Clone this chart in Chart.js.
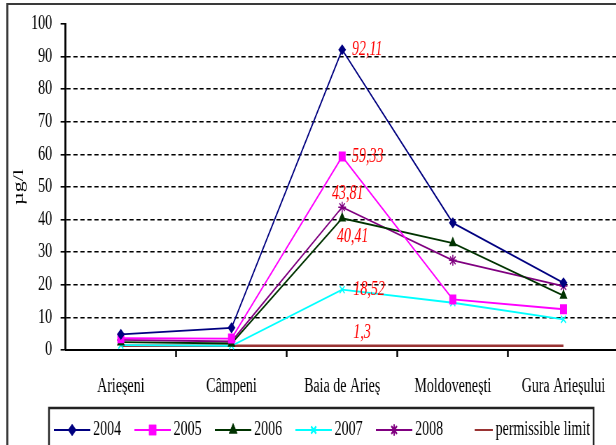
<!DOCTYPE html>
<html>
<head>
<meta charset="utf-8">
<script src="https://cdn.jsdelivr.net/npm/chart.js@4/dist/chart.umd.min.js"></script>
<style>
  html, body { margin: 0; padding: 0; background: #fff; }
  #wrap { width: 616px; height: 445px; overflow: hidden; position: relative; background: #fff; }
  #c { display: block; }
</style>
</head>
<body>
<div id="wrap"><canvas id="c" width="900" height="460" style="width:630px;height:460px"></canvas></div>
<script>
// Sampling sites along the Arieş river
const categories = ['Arieşeni', 'Câmpeni', 'Baia de Arieş', 'Moldoveneşti', 'Gura Arieşului'];

// Concentrations (µg/l) per year
const values2004 = [4.8, 6.8, 92.11, 39.0, 20.6];
const values2005 = [3.6, 3.5, 59.33, 15.5, 12.5];
const values2006 = [2.4, 2.0, 40.41, 32.8, 16.7];
const values2007 = [1.5, 1.3, 18.52, 14.5, 9.4];
const values2008 = [3.1, 2.6, 43.81, 27.5, 19.6];
const permissibleLimit = [1.3, 1.3, 1.3, 1.3, 1.3];

const yTicks = [0, 10, 20, 30, 40, 50, 60, 70, 80, 90, 100];

const FONT = "'Liberation Serif', 'Times New Roman', serif";

const seriesDefs = [
  { label: '2004', data: values2004, color: '#000080', style: 'rectRot', radius: 4.5 },
  { label: '2005', data: values2005, color: '#FF00FF', style: 'rect', radius: 6 },
  { label: '2006', data: values2006, color: '#003300', style: 'triangle', radius: 5 },
  { label: '2007', data: values2007, color: '#00FFFF', style: 'crossRot', radius: 5 },
  { label: '2008', data: values2008, color: '#800080', style: 'star', radius: 5.5 },
  { label: 'permissible limit', data: permissibleLimit, color: '#993333', style: false, radius: 0 }
];

// Values written next to the Baia de Arieş points
const valueLabels = [
  { series: 0, index: 2, align: 'left',   dx: 14, dy: 0 },
  { series: 1, index: 2, align: 'left',   dx: 14, dy: 0 },
  { series: 4, index: 2, align: 'center', dx: 8,  dy: -13 },
  { series: 2, index: 2, align: 'center', dx: 15, dy: 18 },
  { series: 3, index: 2, align: 'left',   dx: 16, dy: 0 },
  { series: 5, index: 2, align: 'left',   dx: 16, dy: -13 }
];

// Legend sample: a short line with the series marker in the middle
function legendSample(def, isLimit) {
  const cv = document.createElement('canvas');
  cv.width = 52; cv.height = 16;
  const g = cv.getContext('2d');
  g.strokeStyle = def.color;
  g.lineWidth = 2;
  g.beginPath();
  if (isLimit) { g.moveTo(26, 8); g.lineTo(52, 8); }
  else { g.moveTo(0, 8); g.lineTo(52, 8); }
  g.stroke();
  if (def.style) {
    Chart.helpers.drawPoint(g, {
      pointStyle: def.style, radius: def.radius, rotation: 0, borderWidth: 1.5
    }, 26, 8);
    g.fillStyle = def.color;
    g.fill();
    g.stroke();
  }
  return cv;
}

const framePlugin = {
  id: 'frame',
  beforeDraw(chart) {
    const ctx = chart.ctx;
    ctx.save();
    ctx.fillStyle = '#fff';
    ctx.fillRect(0, 0, chart.width, chart.height);
    ctx.fillStyle = '#3a3a3a';
    ctx.fillRect(9, 3, 3, chart.height);
    ctx.fillRect(9, 3, chart.width, 2);
    ctx.restore();
  }
};

// Nudge the legend row to the right of the canvas centre
const legendShiftPlugin = {
  id: 'legendShift',
  afterLayout(chart) {
    const lg = chart.legend;
    if (!lg) return;
    lg.left += 19;
    lg.right += 19;
  }
};

const legendBoxPlugin = {
  id: 'legendBox',
  afterDraw(chart) {
    const lg = chart.legend;
    if (!lg || !lg.legendHitBoxes || !lg.legendHitBoxes.length) return;
    const boxes = lg.legendHitBoxes;
    let l = Infinity, r = -Infinity, t = Infinity;
    boxes.forEach(b => {
      l = Math.min(l, b.left); r = Math.max(r, b.left + b.width); t = Math.min(t, b.top);
    });
    const ctx = chart.ctx;
    ctx.save();
    ctx.strokeStyle = '#222';
    ctx.lineWidth = 2.5;
    ctx.strokeRect(l - 13, t - 12, (r + 5) - (l - 13), 60);
    ctx.restore();
  }
};

const valueLabelPlugin = {
  id: 'valueLabels',
  afterDatasetsDraw(chart) {
    const ctx = chart.ctx;
    ctx.save();
    ctx.font = 'italic 20px ' + FONT;
    ctx.fillStyle = '#FF0000';
    ctx.textBaseline = 'middle';
    valueLabels.forEach(v => {
      const pt = chart.getDatasetMeta(v.series).data[v.index];
      const val = chart.data.datasets[v.series].data[v.index];
      ctx.textAlign = v.align;
      ctx.fillText(String(val).replace('.', ','), pt.x + v.dx, pt.y + v.dy);
    });
    ctx.restore();
  }
};

const datasets = seriesDefs.map(d => ({
  label: d.label,
  data: d.data,
  borderColor: d.color,
  backgroundColor: d.color,
  borderWidth: d.style ? 1.8 : 2.5,
  pointStyle: d.style,
  pointRadius: d.radius,
  pointHoverRadius: d.radius,
  pointBorderColor: d.color,
  pointBackgroundColor: d.color,
  pointBorderWidth: 1.5,
  tension: 0,
  fill: false
}));

new Chart(document.getElementById('c'), {
  type: 'line',
  data: { labels: categories, datasets },
  plugins: [framePlugin, legendShiftPlugin, legendBoxPlugin, valueLabelPlugin],
  options: {
    responsive: false,
    animation: false,
    devicePixelRatio: 1,
    layout: { padding: { left: 4, right: 16, top: 15, bottom: 10 } },
    font: { family: FONT },
    plugins: {
      tooltip: { enabled: false },
      legend: {
        position: 'bottom',
        labels: {
          usePointStyle: true,
          pointStyleWidth: 40,
          padding: 25,
          color: '#000',
          font: { family: FONT, size: 20 },
          generateLabels(chart) {
            return seriesDefs.map((d, i) => ({
              text: d.label,
              datasetIndex: i,
              pointStyle: legendSample(d, !d.style),
              fillStyle: d.color,
              strokeStyle: d.color,
              lineWidth: 0,
              hidden: false
            }));
          }
        }
      }
    },
    scales: {
      x: {
        type: 'category',
        offset: true,
        afterFit(scale) { scale.height = 45; },
        grid: {
          offset: true,
          drawOnChartArea: false,
          drawTicks: true,
          tickLength: 7,
          tickColor: c => c.index === 0 ? 'rgba(0,0,0,0)' : '#000',
          tickWidth: 2.5
        },
        border: { display: true, color: '#000', width: 2 },
        ticks: {
          color: '#000',
          padding: 18,
          maxRotation: 0,
          autoSkip: false,
          font: { family: FONT, size: 20 }
        }
      },
      y: {
        min: 0,
        max: 100,
        afterFit(scale) { scale.width = 89.6; },
        afterBuildTicks(scale) { scale.ticks = yTicks.map(v => ({ value: v })); },
        grid: {
          color: c => (c.tick && (c.tick.value === 0 || c.tick.value === 100)) ? 'rgba(0,0,0,0)' : '#000',
          lineWidth: 1.6,
          drawTicks: true,
          tickLength: 7,
          tickColor: '#000',
          tickWidth: 1.6
        },
        border: { display: true, color: '#000', width: 2.8, dash: [6, 4] },
        ticks: {
          color: '#000',
          padding: 12,
          font: { family: FONT, size: 20 }
        },
        title: {
          display: true,
          text: 'µg/l',
          color: '#000',
          padding: { top: 10, bottom: 0 },
          font: { family: FONT, size: 22, weight: 'normal' }
        }
      }
    }
  }
});
</script>
</body>
</html>
